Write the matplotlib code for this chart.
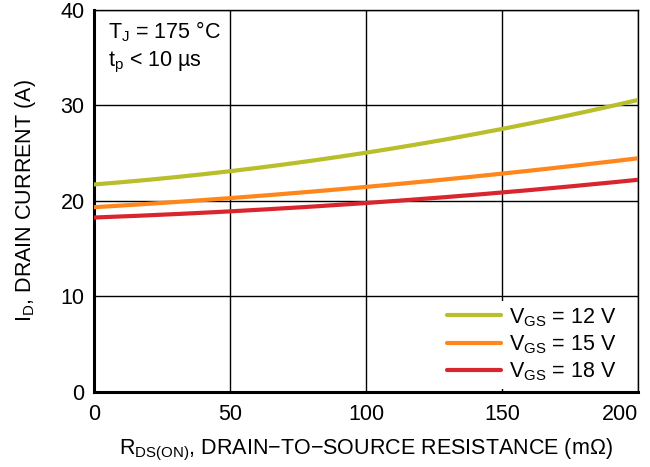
import matplotlib.pyplot as plt
import numpy as np

plt.rcParams['font.family'] = ['Liberation Sans', 'DejaVu Sans']
plt.rcParams['mathtext.fontset'] = 'custom'
plt.rcParams['mathtext.rm'] = 'Liberation Sans'
plt.rcParams['mathtext.it'] = 'Liberation Sans'

# R_DS(ON) in mOhm and drain current in A
r_ds = [0, 25, 50, 75, 100, 125, 150, 175, 200]
id_vgs12 = [21.7, 22.35, 23.1, 24.0, 25.1, 26.2, 27.5, 28.95, 30.6]
id_vgs15 = [19.3, 19.8, 20.3, 20.85, 21.5, 22.1, 22.8, 23.6, 24.5]
id_vgs18 = [18.25, 18.55, 18.9, 19.3, 19.75, 20.3, 20.9, 21.5, 22.2]

series = [
    (id_vgs12, "#B9BE2B", r"V$_{\mathregular{GS}}$ = 12 V"),
    (id_vgs15, "#FF861A", r"V$_{\mathregular{GS}}$ = 15 V"),
    (id_vgs18, "#D9262E", r"V$_{\mathregular{GS}}$ = 18 V"),
]

x_ticks = [0, 50, 100, 150, 200]
y_ticks = [0, 10, 20, 30, 40]

fig = plt.figure(figsize=(6.5, 4.67), dpi=100)
ax = fig.add_axes([0.145, 0.161, 0.837, 0.818])

x_fine = np.linspace(0, 200, 201)
for values, color, label in series:
    # smooth the read points with a quadratic fit
    coef = np.polyfit(r_ds, values, 2)
    ax.plot(x_fine, np.polyval(coef, x_fine), color=color, lw=3,
            label=label, solid_capstyle='round', zorder=3)

ax.set_xlim(0, 200)
ax.set_ylim(0, 40)
ax.set_xticks(x_ticks)
ax.set_yticks(y_ticks)
ax.grid(True, color='black', lw=1)
ax.tick_params(length=0, labelsize=15.5)
ax.tick_params(axis='y', pad=7)
ax.tick_params(axis='x', pad=9)
# last x label sits inside the figure
ax.get_xticklabels()[-1].set_horizontalalignment('right')

for side in ['left', 'bottom']:
    ax.spines[side].set_linewidth(2.2)
for side in ['top', 'right']:
    ax.spines[side].set_linewidth(1)

ax.set_xlabel(r"R$_{\mathregular{DS(ON)}}$, DRAIN$-$TO$-$SOURCE RESISTANCE (m$\Omega$)",
              fontsize=15.5, labelpad=8)
ax.set_ylabel(r"I$_{\mathregular{D}}$, DRAIN CURRENT (A)", fontsize=15.5, labelpad=16)

ax.text(0.025, 0.975, r"T$_{\mathregular{J}}$ = 175 °C" + "\n" + r"t$_{\mathregular{p}}$ < 10 µs",
        transform=ax.transAxes, ha='left', va='top', fontsize=15.5,
        linespacing=1.35)

leg = ax.legend(loc='lower right', fontsize=15.5, frameon=True, framealpha=1,
                facecolor='white', edgecolor='none', handlelength=2.5,
                handletextpad=0.35, labelspacing=0.22, borderaxespad=0.15,
                borderpad=0.25, fancybox=False, bbox_to_anchor=(0.975, 0.0))
leg.set_zorder(5)

fig.savefig("out.png", dpi=100)
